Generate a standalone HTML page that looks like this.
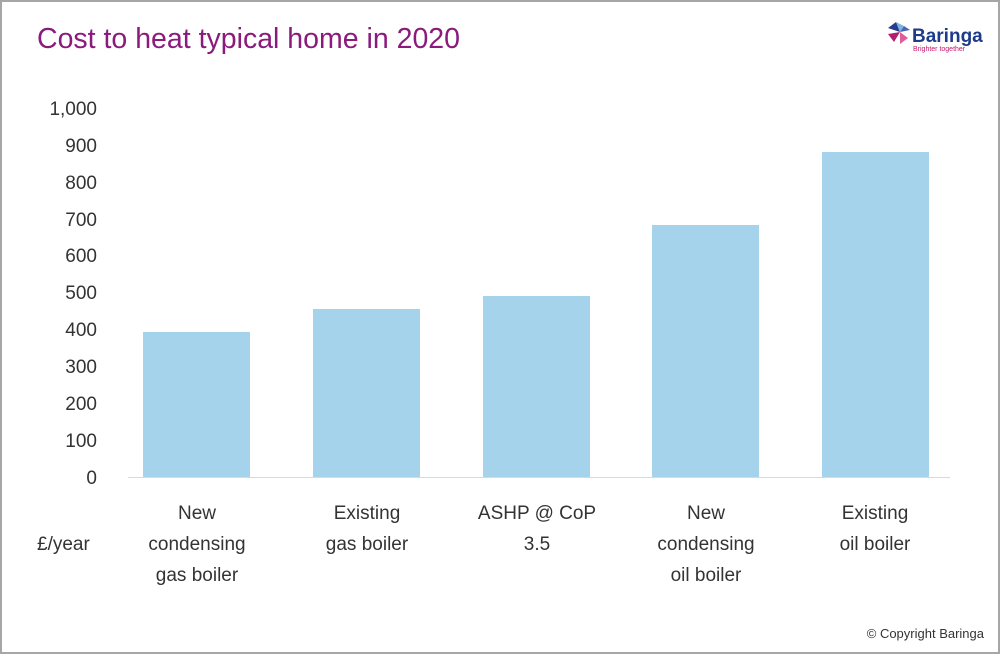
<!DOCTYPE html>
<html><head><style>
body{margin:0;width:1000px;height:654px;background:#fff;overflow:hidden;font-family:"Liberation Sans",sans-serif}
.frame{position:absolute;left:0;top:0;width:996px;height:650px;border:2px solid #a6a6a6}
</style></head><body>
<div class="frame"></div>
<div style="position:absolute;left:37px;top:23px;font-size:28.5px;color:#8b1a7d">Cost to heat typical home in 2020</div>
<svg width="1000" height="654" style="position:absolute;left:0;top:0">
<g fill="#a6d3ec">
<rect x="143" y="332" width="107" height="145"/>
<rect x="313" y="309" width="107" height="168"/>
<rect x="483" y="296" width="107" height="181"/>
<rect x="652" y="225" width="107" height="252"/>
<rect x="822" y="152" width="107" height="325"/>
</g>
<line x1="128" y1="477.5" x2="950" y2="477.5" stroke="#d9d9d9" stroke-width="1"/>
<g font-family="Liberation Sans" font-size="19" fill="#333" text-anchor="end">
<text x="97" y="484">0</text><text x="97" y="447">100</text><text x="97" y="410">200</text><text x="97" y="373">300</text><text x="97" y="336">400</text><text x="97" y="299">500</text><text x="97" y="262">600</text><text x="97" y="226">700</text><text x="97" y="189">800</text><text x="97" y="152">900</text><text x="97" y="115">1,000</text>
</g>
<g font-family="Liberation Sans" font-size="19" fill="#333" text-anchor="middle">
<text x="197" y="519">New</text><text x="197" y="550">condensing</text><text x="197" y="581">gas boiler</text>
<text x="367" y="519">Existing</text><text x="367" y="550">gas boiler</text>
<text x="537" y="519">ASHP @ CoP</text><text x="537" y="550">3.5</text>
<text x="706" y="519">New</text><text x="706" y="550">condensing</text><text x="706" y="581">oil boiler</text>
<text x="875" y="519">Existing</text><text x="875" y="550">oil boiler</text>
</g>
<text x="37" y="550" font-family="Liberation Sans" font-size="19" fill="#333">£/year</text>
<text x="984" y="638" font-family="Liberation Sans" font-size="13" fill="#333" text-anchor="end">© Copyright Baringa</text>
<g>
<polygon points="888,28 896,22 900,32" fill="#2a3b8f"/>
<polygon points="896,22 904,26 900,32" fill="#7ab6e0"/>
<polygon points="888,34 900,32 894,42" fill="#b21e6f"/>
<polygon points="900,32 908,38 900,44" fill="#e05c9a"/>
<polygon points="904,26 910,30 900,32" fill="#4a66b0"/>
</g>
<text x="912" y="42" font-family="Liberation Sans" font-size="19" font-weight="bold" fill="#1e3a8a">Baringa</text>
<text x="913" y="51" font-family="Liberation Sans" font-size="7" fill="#c2186b">Brighter together</text>
</svg>
</body></html>
